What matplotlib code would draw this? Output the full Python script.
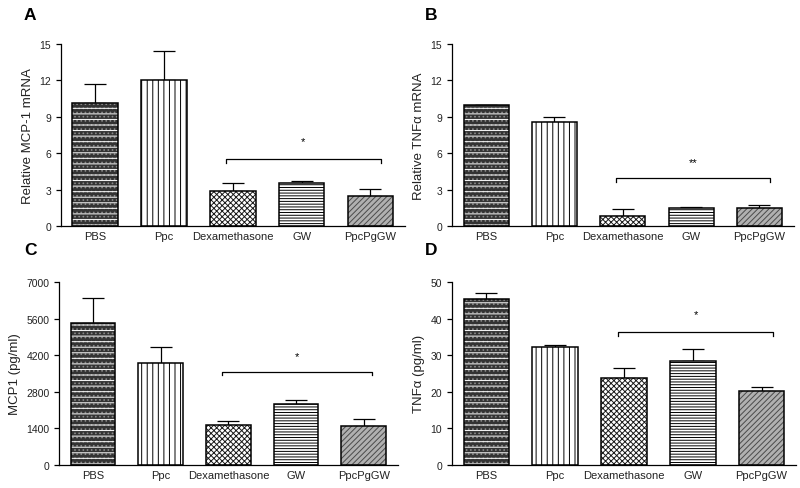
import numpy as np
import matplotlib
matplotlib.use("Agg")
import matplotlib.pyplot as plt

plt.rcParams['font.family'] = ['Liberation Sans', 'DejaVu Sans']
plt.rcParams['hatch.linewidth'] = 0.7

# groups on the x axis
groups = ["PBS", "Ppc", "Dexamethasone", "GW", "PpcPgGW"]

# A: relative MCP-1 mRNA
mcp_mrna = [10.1, 12.0, 2.86, 3.52, 2.47]
mcp_mrna_err = [1.6, 2.45, 0.71, 0.16, 0.55]
# B: relative TNFa mRNA
tnf_mrna = [10.0, 8.55, 0.82, 1.48, 1.48]
tnf_mrna_err = [0.0, 0.41, 0.58, 0.11, 0.22]
# C: MCP1 protein (pg/ml)
mcp_prot = [5450, 3900, 1500, 2320, 1460]
mcp_prot_err = [960, 600, 170, 140, 280]
# D: TNFa protein (pg/ml)
tnf_prot = [45.5, 32.1, 23.6, 28.4, 20.1]
tnf_prot_err = [1.6, 0.6, 2.9, 3.4, 1.2]

# significance brackets: (x start, x end, bracket y, label y, label)
sig_a = (1.9, 4.15, 5.5, 7.0, "*")
sig_b = (1.9, 4.15, 3.93, 5.3, "**")
sig_c = (1.9, 4.12, 3570, 4160, "*")
sig_d = (1.92, 4.17, 36.2, 41.2, "*")

# bar fill styles per group: (face, hatch, hatch colour)
fills = [
    ("#333333", "....", "#8a8a8a"),
    ("white", "|||", "black"),
    ("white", "xxxxxx", "#1a1a1a"),
    ("white", "------", "black"),
    ("#b0b0b0", "//////", "#4a4a4a"),
]


def draw_panel(ax, means, errs, ylabel, yticks, sig):
    x = np.arange(len(groups))
    width = 0.66
    ax.errorbar(x, means, yerr=[np.zeros(len(errs)), errs], fmt="none",
                ecolor="black", elinewidth=0.9, capsize=8, capthick=0.9, zorder=1)
    for i, (face, hatch, hcol) in enumerate(fills):
        ax.bar(x[i], means[i], width, color=face, edgecolor=hcol, hatch=hatch,
               linewidth=0, zorder=2)
        if i == 0:
            # white horizontal streaks over the dark dotted fill
            ax.bar(x[i], means[i], width, color="none", edgecolor="white",
                   hatch="---", linewidth=0, zorder=2)
        ax.bar(x[i], means[i], width, fill=False, edgecolor="black",
               linewidth=1.1, zorder=3)

    x0, x1, yb, ys, label = sig
    top = yticks[-1]
    drop = top * 0.02
    ax.plot([x0, x0, x1, x1], [yb - drop, yb, yb, yb - drop], color="black", lw=0.9)
    ax.text((x0 + x1) / 2, ys, label, ha="center", va="center", fontsize=8)

    ax.set_xlim(-0.5, 4.5)
    ax.set_ylim(0, top)
    ax.set_yticks(yticks)
    ax.set_xticks(x)
    ax.set_xticklabels(groups, fontsize=8, color="#222222")
    ax.tick_params(axis="x", length=0, pad=4)
    ax.tick_params(axis="y", length=3.5, width=0.9, labelsize=7.5, labelcolor="#222222")
    ax.set_ylabel(ylabel, fontsize=9.5, color="#222222", labelpad=4)
    for s in ("top", "right"):
        ax.spines[s].set_visible(False)
    for s in ("left", "bottom"):
        ax.spines[s].set_linewidth(0.9)


fig = plt.figure(figsize=(8, 4.89), dpi=100)
ax_a = fig.add_axes([0.076, 0.536, 0.430, 0.372])
ax_b = fig.add_axes([0.565, 0.536, 0.427, 0.372])
ax_c = fig.add_axes([0.074, 0.048, 0.423, 0.373])
ax_d = fig.add_axes([0.565, 0.048, 0.430, 0.373])

draw_panel(ax_a, mcp_mrna, mcp_mrna_err, "Relative MCP-1 mRNA", [0, 3, 6, 9, 12, 15], sig_a)
draw_panel(ax_b, tnf_mrna, tnf_mrna_err, "Relative TNF\u03b1 mRNA", [0, 3, 6, 9, 12, 15], sig_b)
draw_panel(ax_c, mcp_prot, mcp_prot_err, "MCP1 (pg/ml)", [0, 1400, 2800, 4200, 5600, 7000], sig_c)
draw_panel(ax_d, tnf_prot, tnf_prot_err, "TNF\u03b1 (pg/ml)", [0, 10, 20, 30, 40, 50], sig_d)

for letter, px, py in [("A", 24, 15), ("B", 425, 15), ("C", 24, 251), ("D", 425, 251)]:
    fig.text(px / 800, 1 - py / 489, letter, fontsize=12.5, fontweight="bold",
             va="center", ha="left")

fig.savefig("out.png", dpi=100)
